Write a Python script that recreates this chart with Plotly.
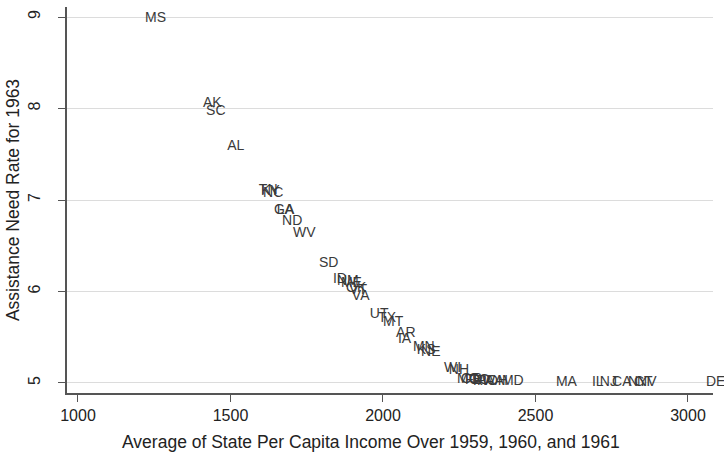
import plotly.graph_objects as go

states = ["MS","AK","SC","AL","TN","KY","NC","GA","LA","ND","WV","SD","ID","NM","ME","OK","VT","VA",
          "UT","TX","MT","AR","IA","MN","KS","NE","WI","NH","MO","OR","FL","CO","RI","PA","WA","OH",
          "MD","MA","IL","NJ","CA","NY","CT","NV","DE"]
income = [1220,1410,1420,1489,1593,1600,1607,1643,1652,1669,1705,1790,1836,1849,1862,1879,1889,1898,
          1957,1984,2000,2043,2049,2098,2111,2125,2200,2216,2243,2256,2269,2282,2295,2308,2325,2341,
          2390,2567,2685,2711,2751,2803,2823,2833,3059]
need_rate = [8.98,8.05,7.97,7.59,7.10,7.09,7.07,6.89,6.89,6.77,6.63,6.31,6.13,6.11,6.09,6.03,6.01,5.95,
             5.75,5.71,5.66,5.54,5.48,5.39,5.36,5.33,5.16,5.14,5.04,5.04,5.03,5.03,5.02,5.02,5.02,5.02,
             5.02,5.0,5.0,5.0,5.0,5.0,5.0,5.0,5.0]

x_ticks = [1000, 1500, 2000, 2500, 3000]
y_ticks = [5, 6, 7, 8, 9]

FONT = "Liberation Sans, Arial, Helvetica, sans-serif"

fig = go.Figure(go.Scatter(
    x=income, y=need_rate, text=states, mode="text",
    textposition="middle right", cliponaxis=False,
    textfont=dict(family=FONT, size=14, color="#3a3a3a"),
    hoverinfo="text"))

fig.update_layout(
    width=724, height=460,
    margin=dict(l=67, r=11, t=7, b=67),
    paper_bgcolor="white", plot_bgcolor="white",
    showlegend=False,
    font=dict(family=FONT, color="#222222"),
    annotations=[dict(
        text="Average of State Per Capita Income Over 1959, 1960, and 1961",
        xref="paper", yref="paper", x=0.4706, y=-0.127,
        xanchor="center", yanchor="middle", showarrow=False,
        font=dict(size=17.5, family=FONT, color="#222222"))],
)
fig.update_xaxes(
    range=[964, 3082], tickvals=x_ticks, ticktext=[str(v) for v in x_ticks],
    showgrid=False, zeroline=False,
    showline=True, linecolor="#555555", linewidth=1.5,
    ticks="outside", ticklen=7, tickcolor="#555555", tickwidth=1.2,
    tickfont=dict(size=16, family=FONT, color="#222222"),
)
fig.update_yaxes(
    range=[4.89, 9.11], tickvals=y_ticks, ticktext=[str(v) for v in y_ticks],
    showgrid=True, gridcolor="#dcdcdc", gridwidth=1.2, zeroline=False,
    showline=True, linecolor="#555555", linewidth=1.5,
    ticks="outside", ticklen=7, tickcolor="#555555", tickwidth=1.2,
    tickangle=-90, ticklabelstandoff=12,
    tickfont=dict(size=16, family=FONT, color="#222222"),
    title=dict(text="Assistance Need Rate for 1963",
               font=dict(size=17.5, family=FONT, color="#222222"), standoff=2),
)

fig.write_html("out.html")
